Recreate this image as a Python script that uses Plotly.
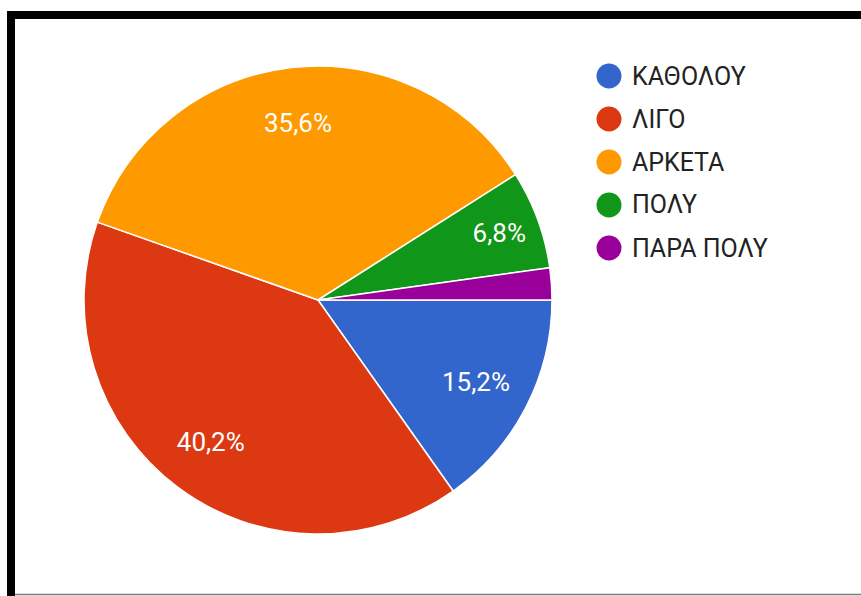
import plotly.graph_objects as go

# Survey answers and their shares (%)
categories = ["ΚΑΘΟΛΟΥ", "ΛΙΓΟ", "ΑΡΚΕΤΑ", "ΠΟΛΥ", "ΠΑΡΑ ΠΟΛΥ"]
shares = [15.2, 40.2, 35.6, 6.8, 2.2]
colors = ["#3366cc", "#dc3912", "#ff9900", "#109618", "#990099"]

W, H = 861, 596


def px(x):
    return x / W


def py(y):
    return 1 - y / H


pie_domain = dict(x=[px(84), px(552)], y=[py(534), py(66)])

# Slice labels use a decimal comma; very thin slices stay unlabelled
slice_text = [(f"{v:.1f}".replace(".", ",") + "%") if v >= 5 else "" for v in shares]

fig = go.Figure()
# coloured slices
fig.add_trace(go.Pie(
    labels=categories,
    values=shares,
    textinfo="none",
    marker=dict(colors=colors, line=dict(color="#ffffff", width=1.5)),
    sort=False,
    direction="clockwise",
    rotation=90,
    showlegend=False,
    domain=pie_domain,
))
# transparent ring on top that carries the percentage labels out towards the rim
fig.add_trace(go.Pie(
    labels=categories,
    values=shares,
    text=slice_text,
    textinfo="text",
    textposition="inside",
    insidetextorientation="horizontal",
    insidetextfont=dict(family="Roboto", size=26, color="#ffffff"),
    marker=dict(colors=["rgba(0,0,0,0)"] * len(shares), line=dict(width=0)),
    sort=False,
    direction="clockwise",
    rotation=90,
    hole=0.52,
    showlegend=False,
    hoverinfo="skip",
    domain=pie_domain,
))

shapes = [
    # frame: heavy top and left bars, thin bottom rule
    dict(type="rect", xref="paper", yref="paper", x0=px(7), x1=1, y0=py(19), y1=py(11),
         fillcolor="#000000", line=dict(width=0), layer="above"),
    dict(type="rect", xref="paper", yref="paper", x0=px(7), x1=px(15), y0=0, y1=py(11),
         fillcolor="#000000", line=dict(width=0), layer="above"),
    dict(type="line", xref="paper", yref="paper", x0=px(15), x1=1, y0=py(594.5), y1=py(594.5),
         line=dict(color="#7a7a7a", width=1.5), layer="above"),
]

annotations = []
legend_y0, legend_step = 76, 43
for i, (name, col) in enumerate(zip(categories, colors)):
    yc = legend_y0 + i * legend_step
    shapes.append(dict(
        type="circle", xref="paper", yref="paper",
        xsizemode="pixel", ysizemode="pixel",
        xanchor=px(609), yanchor=py(yc),
        x0=-12.5, x1=12.5, y0=-12.5, y1=12.5,
        fillcolor=col, line=dict(width=0),
    ))
    annotations.append(dict(
        text=name, xref="paper", yref="paper",
        x=px(630), y=py(yc), xanchor="left", yanchor="middle",
        showarrow=False,
        font=dict(family="Roboto", size=25, color="#222222"),
    ))

fig.update_layout(
    width=W, height=H,
    margin=dict(l=0, r=0, t=0, b=0),
    paper_bgcolor="#ffffff",
    plot_bgcolor="#ffffff",
    shapes=shapes,
    annotations=annotations,
    showlegend=False,
)

fig.write_html("out.html")
